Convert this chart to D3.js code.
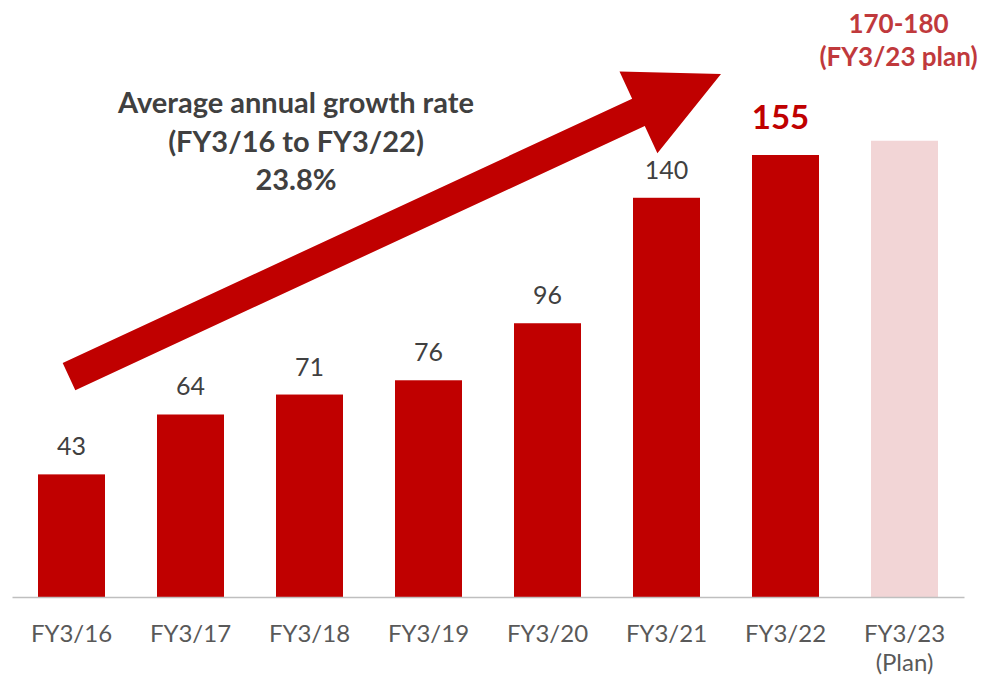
<!DOCTYPE html>
<html><head><meta charset="utf-8">
<script src="https://cdn.jsdelivr.net/npm/d3@7"></script>
<style>body{margin:0;background:#fff;} svg{display:block;font-family:Lato,"Open Sans",sans-serif;}</style>
</head><body><div id="chart"></div>
<script>
const categories = ["FY3/16","FY3/17","FY3/18","FY3/19","FY3/20","FY3/21","FY3/22","FY3/23"];
const tickLabels = [["FY3/16"],["FY3/17"],["FY3/18"],["FY3/19"],["FY3/20"],["FY3/21"],["FY3/22"],["FY3/23","(Plan)"]];
const values = [43, 64, 71, 76, 96, 140, 155, 160];
const valueLabels = ["43","64","71","76","96","140","155",""];
const planLabel = ["170-180","(FY3/23 plan)"];
const growthText = ["Average annual growth rate","(FY3/16 to FY3/22)","23.8%"];

const W = 984, H = 681;
const svg = d3.select("#chart").append("svg").attr("width", W).attr("height", H);

const x = d3.scaleBand().domain(categories).range([12, 964]).paddingInner(0.437).paddingOuter(0.2185);
const y = d3.scaleLinear().domain([0, 155]).range([597, 155]);

// arrow (annotation)
(function(){
  const sx = x("FY3/16") + x.bandwidth()/2 - 2.5, sy = y(77.3);
  const tx = x("FY3/22") - 31, ty = y(183.4);
  const dx = tx - sx, dy = ty - sy, L = Math.hypot(dx, dy);
  const ux = dx / L, uy = dy / L, nx = -uy, ny = ux;
  const shaftW = 30, headW = 90, headL = 91;
  const bx = tx - ux*headL, by = ty - uy*headL;
  const pts = [
    [sx + nx*shaftW/2, sy + ny*shaftW/2],
    [bx + nx*shaftW/2, by + ny*shaftW/2],
    [bx + nx*headW/2, by + ny*headW/2],
    [tx, ty],
    [bx - nx*headW/2, by - ny*headW/2],
    [bx - nx*shaftW/2, by - ny*shaftW/2],
    [sx - nx*shaftW/2, sy - ny*shaftW/2]
  ];
  svg.append("path").attr("d", d3.line()(pts) + "Z").attr("fill", "#C00000");
})();

// bars
svg.selectAll("rect.bar").data(categories).join("rect")
  .attr("class","bar")
  .attr("x", d => x(d))
  .attr("width", x.bandwidth())
  .attr("y", (d,i) => y(values[i]))
  .attr("height", (d,i) => y(0) - y(values[i]))
  .attr("fill", (d,i) => i === categories.length - 1 ? "#F2D5D6" : "#C00000");

// axis line
const axis = d3.axisBottom(x).tickSize(0).tickFormat("");
const ag = svg.append("g").attr("transform", `translate(0,${y(0)})`).call(axis);
ag.select(".domain").attr("stroke", "#BFBFBF").attr("stroke-width", 1.3);

// tick labels
categories.forEach((c, i) => {
  const t = svg.append("text").attr("text-anchor","middle")
    .attr("x", x(c) + x.bandwidth()/2).attr("y", 642)
    .attr("fill", "#595959").attr("font-size", 24);
  tickLabels[i].forEach((s, j) => t.append("tspan")
    .attr("x", x(c) + x.bandwidth()/2).attr("dy", j ? 29 : 0).text(s));
});

// value labels
categories.forEach((c, i) => {
  if (!valueLabels[i]) return;
  const big = c === "FY3/22";
  svg.append("text").attr("text-anchor","middle")
    .attr("x", x(c) + x.bandwidth()/2 - (big ? 5 : 0))
    .attr("y", y(values[i]) - (big ? 26 : 19))
    .attr("fill", big ? "#C00000" : "#404040")
    .attr("font-size", big ? 33 : 25)
    .attr("font-weight", big ? 700 : 400)
    .text(valueLabels[i]);
});

// plan label
const pc = x("FY3/23") + x.bandwidth()/2 - 6;
planLabel.forEach((s, j) => svg.append("text").attr("text-anchor","middle")
  .attr("x", pc).attr("y", 33 + j*33)
  .attr("fill", "#C0393C").attr("font-size", 26).attr("font-weight", 700).text(s));

// growth annotation
growthText.forEach((s, j) => svg.append("text").attr("text-anchor","middle")
  .attr("x", 296).attr("y", 113 + j*38.5)
  .attr("fill", "#404040").attr("font-size", 29).attr("font-weight", 700).text(s));
</script></body></html>
